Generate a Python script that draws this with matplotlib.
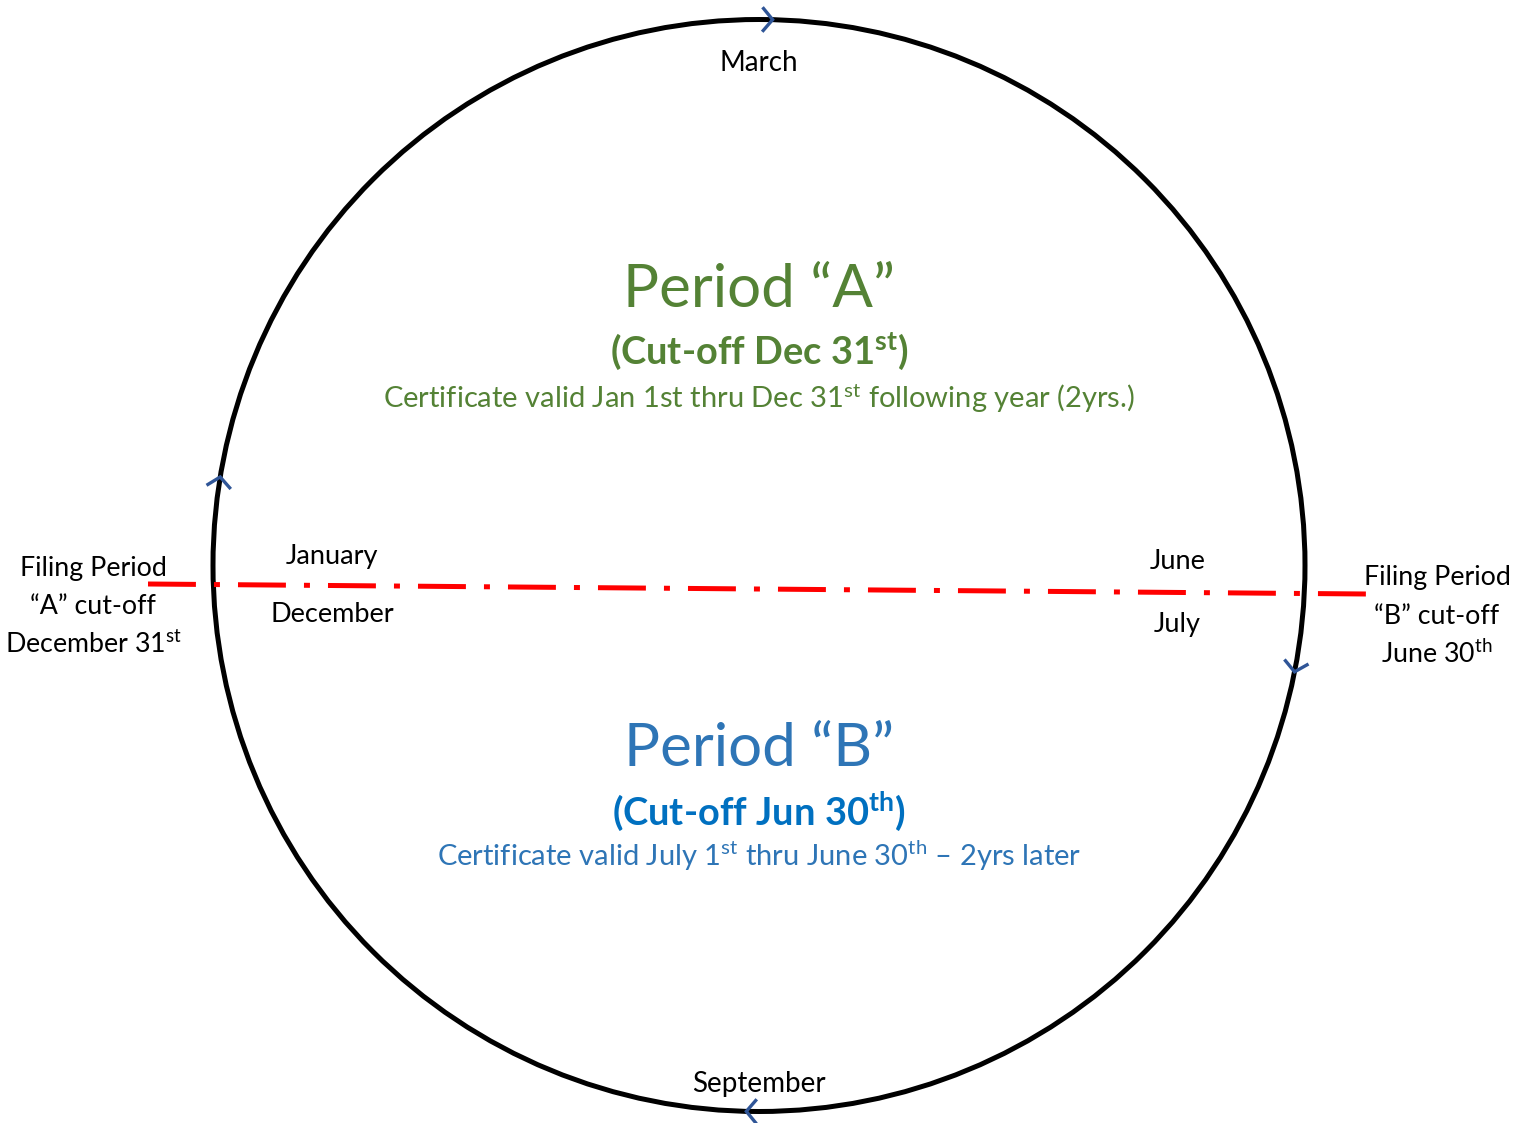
import numpy as np
import matplotlib
matplotlib.use("Agg")
import matplotlib.pyplot as plt
from matplotlib.patches import Circle

plt.rcParams['font.family'] = ['Lato', 'DejaVu Sans']
plt.rcParams['mathtext.fontset'] = 'custom'
plt.rcParams['mathtext.rm'] = 'Lato'
plt.rcParams['mathtext.it'] = 'Lato:italic'
plt.rcParams['mathtext.bf'] = 'Lato:bold'
plt.rcParams['lines.scale_dashes'] = False

# ---- data ----
circle_center = (759, 565.5)
circle_radius = 546
arrow_angles_deg = [-89.2, -171.3, 10.6, 90.7]      # top, left, right, bottom (screen y down)
arrow_dirs = [1, 1, 1, 1]                            # clockwise travel
cutoff_line_x = [148, 1366]
cutoff_line_y = [584, 594]

month_labels = ["March", "September", "January", "December", "June", "July"]
month_x = [759, 759, 332, 332, 1178, 1177]
month_baseline = [71, 1092, 564, 622, 569, 632]

filing_a_lines = ["Filing Period", "\u201cA\u201d cut-off", "December 31$^{\\mathrm{st}}$"]
filing_b_lines = ["Filing Period", "\u201cB\u201d cut-off", "June 30$^{\\mathrm{th}}$"]
filing_a_x, filing_b_x = 93, 1437
filing_a_baselines = [576, 614, 653]
filing_b_baselines = [585, 624, 663]

period_a = ["Period \u201cA\u201d", "(Cut-off Dec 31$^{\\mathbf{st}}$)",
            "Certificate valid Jan 1st thru Dec 31$^{\\mathrm{st}}$ following year (2yrs.)"]
period_b = ["Period \u201cB\u201d", "(Cut-off Jun 30$^{\\mathbf{th}}$)",
            "Certificate valid July 1$^{\\mathrm{st}}$ thru June 30$^{\\mathrm{th}}$ \u2013 2yrs later"]
period_a_baselines = [307, 364, 408]
period_b_baselines = [766, 825, 866]

green = "#548235"
blue = "#2E75B6"
blue_bold = "#0070C0"
arrow_color = "#2F5597"

# ---- figure ----
fig = plt.figure(figsize=(15.28, 11.23), dpi=100)
ax = fig.add_axes([0, 0, 1, 1])
ax.set_xlim(0, 1528)
ax.set_ylim(1123, 0)
ax.axis('off')

ax.add_patch(Circle(circle_center, circle_radius, fill=False, lw=3.6, ec='black', zorder=2))

# chevrons on the circle
for ang, d in zip(arrow_angles_deg, arrow_dirs):
    t = np.deg2rad(ang)
    cx, cy = circle_center
    px, py = cx + circle_radius * np.cos(t), cy + circle_radius * np.sin(t)
    tx, ty = -np.sin(t) * d, np.cos(t) * d
    tip = np.array([px + tx * 6, py + ty * 6])
    back = -np.array([tx, ty])
    arm = 16
    half = np.deg2rad(50)
    pts = []
    for s in (1, -1):
        c, sn = np.cos(s * half), np.sin(s * half)
        v = np.array([back[0] * c - back[1] * sn, back[0] * sn + back[1] * c])
        pts.append(tip + arm * v)
    ax.plot([pts[0][0], tip[0], pts[1][0]], [pts[0][1], tip[1], pts[1][1]],
            color=arrow_color, lw=2.4, solid_capstyle='butt', solid_joinstyle='miter', zorder=3)

# red dash-dot cutoff line
ax.plot(cutoff_line_x, cutoff_line_y, color='#FF0000', lw=3.6,
        linestyle=(0, (34.5, 13, 4.3, 13)), dash_capstyle='butt', zorder=4)

# month labels
month_sizes = [20, 20, 19.5, 19.5, 19.5, 19.5]
for lab, x, y, s in zip(month_labels, month_x, month_baseline, month_sizes):
    ax.text(x, y, lab, fontsize=s, ha='center', va='baseline', color='black')

for lab, y in zip(filing_a_lines, filing_a_baselines):
    ax.text(filing_a_x, y, lab, fontsize=19.3, ha='center', va='baseline', color='black')
for lab, y in zip(filing_b_lines, filing_b_baselines):
    ax.text(filing_b_x, y, lab, fontsize=19.3, ha='center', va='baseline', color='black')

sizes = [43.3, 27.4, 21]
weights = ['normal', 'bold', 'normal']
for lab, y, s, w in zip(period_a, period_a_baselines, sizes, weights):
    ax.text(759, y, lab, fontsize=s, fontweight=w, ha='center', va='baseline', color=green)
colors_b = [blue, blue_bold, blue]
for lab, y, s, w, c in zip(period_b, period_b_baselines, sizes, weights, colors_b):
    ax.text(759, y, lab, fontsize=s, fontweight=w, ha='center', va='baseline', color=c)

fig.savefig("out.png", dpi=100, facecolor='white')
